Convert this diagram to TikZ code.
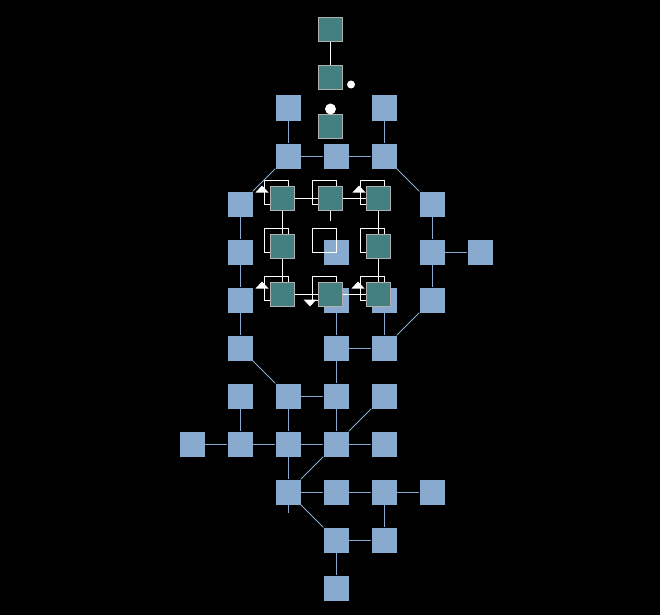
\documentclass[tikz,border=0pt]{standalone}
\usepackage{amsmath}
\usepackage{amssymb}

\definecolor{steel}{RGB}{136,170,206}
\definecolor{teal node fill}{RGB}{69,128,128}
\definecolor{rim}{RGB}{176,176,176}

\begin{document}
\begin{tikzpicture}[x=1pt,y=-1pt,
  blue node/.style={rectangle,fill=steel,minimum size=25pt,inner sep=0pt},
  teal node/.style={rectangle,fill=teal node fill,draw=rim,line width=1pt,minimum size=24pt,inner sep=0pt},
  ghost node/.style={rectangle,draw=white,line width=0.9pt,minimum size=24pt,inner sep=0pt},
  blue line/.style={draw=steel,line width=0.8pt},
  white line/.style={draw=white,line width=1pt}]

  \fill[black] (0,0) rectangle (660,615);
  \useasboundingbox (0,0) rectangle (660,615);

  % blue grid
  \node[blue node] (a2) at (288,108) {};
  \node[blue node] (a4) at (384,108) {};
  \node[blue node] (b2) at (288,156) {};
  \node[blue node] (b3) at (336,156) {};
  \node[blue node] (b4) at (384,156) {};
  \node[blue node] (c1) at (240,204) {};
  \node[blue node] (c5) at (432,204) {};
  \node[blue node] (d1) at (240,252) {};
  \node[blue node] (d3) at (336,252) {};
  \node[blue node] (d5) at (432,252) {};
  \node[blue node] (d6) at (480,252) {};
  \node[blue node] (e1) at (240,300) {};
  \node[blue node] (e3) at (336,300) {};
  \node[blue node] (e4) at (384,300) {};
  \node[blue node] (e5) at (432,300) {};
  \node[blue node] (f1) at (240,348) {};
  \node[blue node] (f3) at (336,348) {};
  \node[blue node] (f4) at (384,348) {};
  \node[blue node] (g1) at (240,396) {};
  \node[blue node] (g2) at (288,396) {};
  \node[blue node] (g3) at (336,396) {};
  \node[blue node] (g4) at (384,396) {};
  \node[blue node] (h0) at (192,444) {};
  \node[blue node] (h1) at (240,444) {};
  \node[blue node] (h2) at (288,444) {};
  \node[blue node] (h3) at (336,444) {};
  \node[blue node] (h4) at (384,444) {};
  \node[blue node] (i2) at (288,492) {};
  \node[blue node] (i3) at (336,492) {};
  \node[blue node] (i4) at (384,492) {};
  \node[blue node] (i5) at (432,492) {};
  \node[blue node] (j3) at (336,540) {};
  \node[blue node] (j4) at (384,540) {};
  \node[blue node] (k3) at (336,588) {};
  \coordinate (i2end) at (288,513);

  \path (a2) [-, blue line] edge (b2);
  \path (a4) [-, blue line] edge (b4);
  \path (b2) [-, blue line] edge (b3);
  \path (b3) [-, blue line] edge (b4);
  \path (b2) [-, blue line] edge (c1);
  \path (b4) [-, blue line] edge (c5);
  \path (c1) [-, blue line] edge (d1);
  \path (d1) [-, blue line] edge (e1);
  \path (e1) [-, blue line] edge (f1);
  \path (c5) [-, blue line] edge (d5);
  \path (d5) [-, blue line] edge (d6);
  \path (d5) [-, blue line] edge (e5);
  \path (e5) [-, blue line] edge (f4);
  \path (e3) [-, blue line] edge (f3);
  \path (e4) [-, blue line] edge (f4);
  \path (f3) [-, blue line] edge (f4);
  \path (f1) [-, blue line] edge (g2);
  \path (f3) [-, blue line] edge (g3);
  \path (g2) [-, blue line] edge (g3);
  \path (g1) [-, blue line] edge (h1);
  \path (g2) [-, blue line] edge (h2);
  \path (g3) [-, blue line] edge (h3);
  \path (g4) [-, blue line] edge (h3);
  \path (h0) [-, blue line] edge (h1);
  \path (h1) [-, blue line] edge (h2);
  \path (h2) [-, blue line] edge (h3);
  \path (h3) [-, blue line] edge (h4);
  \path (h2) [-, blue line] edge (i2);
  \path (h3) [-, blue line] edge (i2);
  \path (i2) [-, blue line] edge (i3);
  \path (i3) [-, blue line] edge (i4);
  \path (i4) [-, blue line] edge (i5);
  \path (i2) [-, blue line] edge (j3);
  \path (i4) [-, blue line] edge (j4);
  \path (j3) [-, blue line] edge (j4);
  \path (j3) [-, blue line] edge (k3);
  \path (i2) [-, blue line] edge (i2end);

  % ghosts behind the teal block
  \node[ghost node] (ga) at (276,192) {};
  \node[ghost node] (gb) at (324,192) {};
  \node[ghost node] (gc) at (372,192) {};
  \node[ghost node] (gd) at (276,240) {};
  \node[ghost node] (gm) at (324,240) {};
  \node[ghost node] (ge) at (372,240) {};
  \node[ghost node] (gf) at (276,288) {};
  \node[ghost node] (gg) at (324,288) {};
  \node[ghost node] (gh) at (372,288) {};

  % teal nodes
  \node[teal node] (t1) at (330,30) {};
  \node[teal node] (t2) at (330,78) {};
  \node[teal node] (t3) at (330,126) {};
  \node[teal node] (ma) at (282,198) {};
  \node[teal node] (mb) at (330,198) {};
  \node[teal node] (mc) at (378,198) {};
  \node[teal node] (md) at (282,246) {};
  \node[teal node] (me) at (378,246) {};
  \node[teal node] (mf) at (282,294) {};
  \node[teal node] (mg) at (330,294) {};
  \node[teal node] (mh) at (378,294) {};
  \coordinate (mbend) at (330,221);

  \path (t1) [-, white line] edge (t2);
  \path (ma) [-, white line] edge (mb);
  \path (mb) [-, white line] edge (mc);
  \path (ma) [-, white line] edge (md);
  \path (md) [-, white line] edge (mf);
  \path (mc) [-, white line] edge (me);
  \path (me) [-, white line] edge (mh);
  \path (mf) [-, white line] edge (mg);
  \path (mg) [-, white line] edge (mh);
  \path (mb) [-, white line] edge (mbend);

  % markers
  \fill[white] (255.5,192.5) -- (268.5,192.5) -- (262,185.5) -- cycle;
  \fill[white] (352.5,192.5) -- (365.5,192.5) -- (359,185.5) -- cycle;
  \fill[white] (255.5,288.5) -- (268.5,288.5) -- (262,281.5) -- cycle;
  \fill[white] (351.5,288.5) -- (364.5,288.5) -- (358,281.5) -- cycle;
  \fill[white] (303.5,299.5) -- (316.5,299.5) -- (310,306.5) -- cycle;
  \fill[white] (351,84.5) circle (4);
  \fill[white] (330.5,109) circle (5.5);
\end{tikzpicture}
\end{document}
